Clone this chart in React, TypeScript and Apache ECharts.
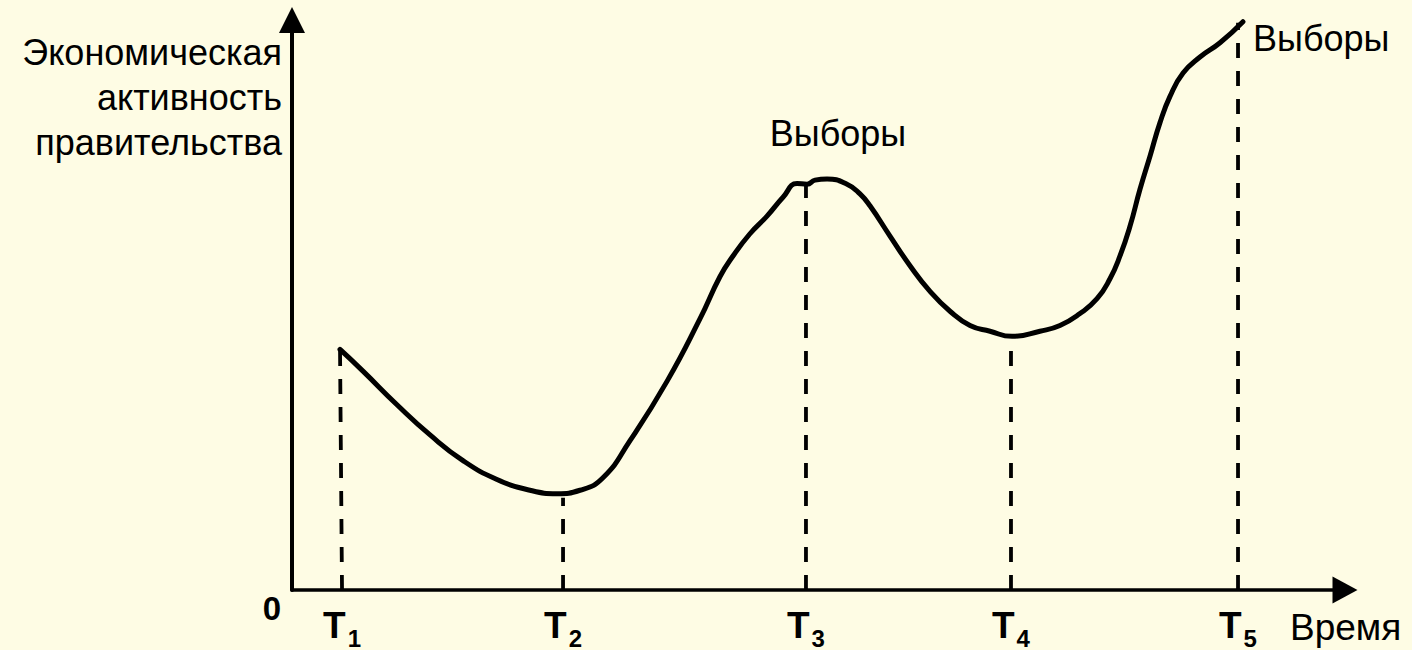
import React, { useEffect, useRef } from "react";
import * as echarts from "echarts";

// Time positions of the moments T1..T5 (abstract time units, 0..100)
const T_POSITIONS = [4.75, 25.74, 48.81, 68.28, 89.84];
const T_SUBSCRIPTS = ["1", "2", "3", "4", "5"];
// Activity level where each dashed guide meets the curve
const T_LEVELS = [42.2, 16.2, 71.2, 44.5, 99.5];

// Curve of government economic activity (time, level)
const CURVE_TIME = [
  4.56, 6.74, 9.97, 13.11, 16.24, 19.47, 22.6, 25.17, 27.35, 29.53, 32.1, 35.61,
  38.75, 40.65, 41.88, 43.49, 45.11, 46.63, 47.96, 48.91, 49.67, 50.81, 52.71,
  53.94, 54.89, 56.79, 58.69, 60.59, 62.49, 64.39, 66.29, 68.38, 71.03, 72.93,
  74.83, 76.45, 77.68, 78.63, 79.58, 80.53, 81.48, 82.43, 83.38, 84.62, 86.23,
  88.13, 90.31,
];
const CURVE_LEVEL = [
  42.2, 38.4, 32.5, 27.2, 22.7, 19.4, 17.5, 16.9, 17.5, 19.7, 26.2, 36.6, 47.6,
  55.0, 58.6, 62.5, 65.6, 68.9, 71.3, 71.2, 71.9, 72.1, 71.2, 69.5, 67.4, 62.1,
  56.9, 52.4, 48.9, 46.4, 45.4, 44.5, 45.4, 46.4, 48.5, 51.1, 54.6, 58.6, 63.8,
  70.3, 76.1, 82.0, 86.6, 90.7, 93.5, 96.0, 99.7,
];

const Y_TITLE = "Экономическая\nактивность\nправительства";
const X_TITLE = "Время";
const ELECTIONS = "Выборы";

const FONT = "'Liberation Sans', Arial, Helvetica, sans-serif";
const BG = "#FEFCE4";

export default function App() {
  const ref = useRef<HTMLDivElement>(null);

  useEffect(() => {
    document.body.style.margin = "0";
    document.body.style.background = BG;
    const chart = echarts.init(ref.current!, null, { renderer: "svg" });
    const curve = CURVE_TIME.map((t, i) => [t, CURVE_LEVEL[i]]);
    const guideSeries = T_POSITIONS.map((t, i) => ({
      type: "line",
      data: [
        [t, 0],
        [i === 0 ? CURVE_TIME[0] : t, T_LEVELS[i]],
      ],
      symbol: "none",
      silent: true,
      lineStyle: { color: "#000", width: 3.8, type: [15, 13], dashOffset: 0, cap: "butt" },
      z: 2,
    }));

    chart.setOption({
      animation: false,
      backgroundColor: BG,
      grid: { left: 292, right: 67, top: 20, bottom: 57, containLabel: false },
      xAxis: {
        type: "value",
        min: 0,
        max: 100,
        axisLine: {
          show: true,
          onZero: false,
          symbol: ["none", "triangle"],
          symbolSize: [27, 25],
          lineStyle: { color: "#000", width: 3.5 },
        },
        axisTick: { show: false },
        splitLine: { show: false },
        axisLabel: {
          show: true,
          customValues: T_POSITIONS,
          margin: 10,
          formatter: (v: number) => {
            const idx = T_POSITIONS.findIndex((p) => Math.abs(p - v) < 1e-6);
            return idx < 0 ? "" : `{t|T}{s|${T_SUBSCRIPTS[idx]}}`;
          },
          rich: {
            t: { fontSize: 37, fontWeight: "bold", fontFamily: FONT, color: "#000" },
            s: {
              fontSize: 24,
              fontWeight: "bold",
              fontFamily: FONT,
              color: "#000",
              padding: [26, 0, 0, 2],
            },
          },
        },
      },
      yAxis: {
        type: "value",
        min: 0,
        max: 100,
        axisLine: {
          show: true,
          onZero: false,
          symbol: ["none", "triangle"],
          symbolSize: [26, 26],
          lineStyle: { color: "#000", width: 4 },
        },
        axisTick: { show: false },
        splitLine: { show: false },
        axisLabel: { show: false },
      },
      series: [
        ...guideSeries,
        {
          type: "line",
          data: curve,
          smooth: 0.5,
          symbol: "none",
          silent: true,
          lineStyle: { color: "#000", width: 5, cap: "round", join: "round" },
          z: 3,
        },
      ],
      graphic: [
        {
          type: "text",
          x: 282,
          y: 30,
          style: {
            text: Y_TITLE,
            fontSize: 36,
            fontFamily: FONT,
            lineHeight: 45,
            align: "right",
            verticalAlign: "top",
            fill: "#000",
          },
        },
        {
          type: "text",
          x: 838,
          y: 133,
          style: {
            text: ELECTIONS,
            fontSize: 36,
            fontFamily: FONT,
            align: "center",
            verticalAlign: "middle",
            fill: "#000",
          },
        },
        {
          type: "text",
          x: 1253,
          y: 38,
          style: {
            text: ELECTIONS,
            fontSize: 36,
            fontFamily: FONT,
            align: "left",
            verticalAlign: "middle",
            fill: "#000",
          },
        },
        {
          type: "text",
          x: 1290,
          y: 627,
          style: {
            text: X_TITLE,
            fontSize: 37,
            fontFamily: FONT,
            align: "left",
            verticalAlign: "middle",
            fill: "#000",
          },
        },
        {
          type: "text",
          x: 272,
          y: 608,
          style: {
            text: "0",
            fontSize: 33,
            fontWeight: "bold",
            fontFamily: FONT,
            align: "center",
            verticalAlign: "middle",
            fill: "#000",
          },
        },
      ],
    });
    return () => chart.dispose();
  }, []);

  return (
    <div
      ref={ref}
      style={{ position: "fixed", left: 0, top: 0, width: 1412, height: 650, background: BG }}
    />
  );
}
